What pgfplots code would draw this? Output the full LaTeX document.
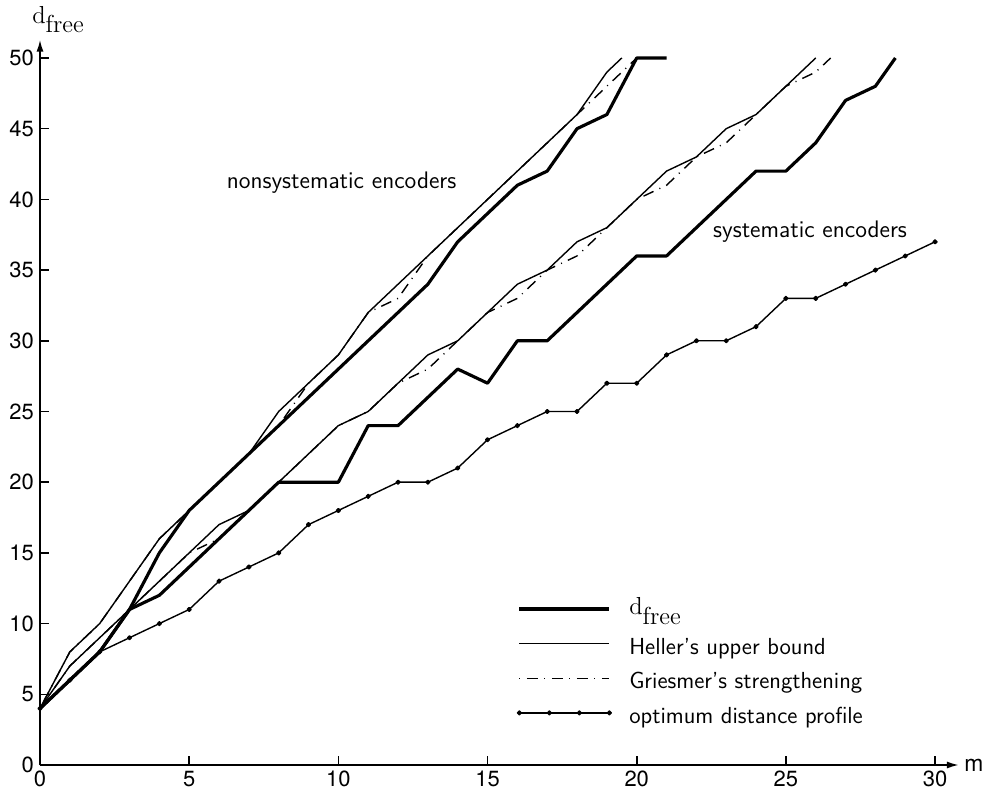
\documentclass[border=0pt]{standalone}
\usepackage{fontspec}
\usepackage{pgfplots}
\pgfplotsset{compat=1.18}
\usetikzlibrary{arrows.meta}
\newfontfamily\heros{TeX Gyre Heros}
\newcommand{\dfree}{{\fontsize{14}{16}\selectfont\rmfamily d\raisebox{-5.5pt}{free}}}
\newcommand{\txtfont}{\sffamily\fontsize{13.2}{15}\selectfont}
\newcommand{\lstrut}{\rule[-0.22cm]{0pt}{0.70cm}}

\begin{document}
\begin{tikzpicture}
\begin{axis}[
    x=0.5967cm, y=0.2828cm,
    xmin=0, xmax=30.8, ymin=0, ymax=51.3,
    axis lines=left,
    axis line style={line width=1pt, -{Latex[length=2.4mm,width=1.4mm]}},
    xtick={0,5,...,30}, ytick={0,5,...,50},
    tick align=inside, major tick length=0.18cm,
    tick style={line width=0.9pt, black},
    ticklabel style={font=\heros\fontsize{12.5}{14}\selectfont},
    /pgf/number format/assume math mode=true,
    xlabel={\heros\fontsize{13}{15}\selectfont m},
    ylabel={\dfree},
    every axis x label/.style={at={(rel axis cs:1,0)}, anchor=west, inner sep=0pt, xshift=0.1cm},
    every axis y label/.style={at={(rel axis cs:0,1)}, anchor=south west, inner sep=0pt, xshift=-0.16cm, yshift=0.12cm},
    clip=false,
    legend cell align=left,
    legend style={at={(axis cs:15.99,12.0)}, anchor=north west, draw=none, fill=none,
        inner sep=0pt, row sep=0.16cm, column sep=0.36cm, font=\txtfont,
        nodes={inner sep=0pt}},
    legend image code/.code={\draw[mark repeat=1,#1] plot coordinates {(0cm,0cm) (0.6cm,0cm) (1.2cm,0cm) (1.8cm,0cm)};},
    every axis plot/.append style={line join=round},
]
% free distance, nonsystematic
\addplot[black, line width=1.8pt] coordinates {
(0,4) (1,6) (2,8) (3,11) (4,15) (5,18) (6,20) (7,22) (8,24) (9,26) (10,28)
(11,30) (12,32) (13,34) (14,37) (15,39) (16,41) (17,42) (18,45) (19,46) (20,50) (21,50)
};
\addlegendentry{\lstrut\raisebox{0.1cm}[0pt][0pt]{\dfree}}
% free distance, systematic
\addplot[black, line width=1.8pt, forget plot] coordinates {
(0,4) (1,6) (2,8) (3,11) (4,12) (5,14) (6,16) (7,18) (8,20) (9,20) (10,20)
(11,24) (12,24) (13,26) (14,28) (15,27) (16,30) (17,30) (18,32) (19,34) (20,36)
(21,36) (22,38) (23,40) (24,42) (25,42) (26,44) (27,47) (28,48) (28.67,50)
};
% Heller, nonsystematic
\addplot[black, line width=0.8pt] coordinates {
(0,4) (1,8) (2,10) (3,13) (4,16) (5,18) (6,20) (7,22) (8,25) (9,27) (10,29)
(11,32) (12,34) (13,36) (14,38) (15,40) (16,42) (17,44) (18,46) (19,49) (19.5,50)
};
\addlegendentry{\lstrut Heller's upper bound}
% Heller, systematic
\addplot[black, line width=0.8pt, forget plot] coordinates {
(0,4) (1,7) (2,9) (3,11) (4,13) (5,15) (6,17) (7,18) (8,20) (9,22) (10,24)
(11,25) (12,27) (13,29) (14,30) (15,32) (16,34) (17,35) (18,37) (19,38) (20,40)
(21,42) (22,43) (23,45) (24,46) (25,48) (26,50)
};
% Griesmer, nonsystematic
\addplot[black, line width=0.8pt, dash pattern=on 0.22cm off 0.13cm on 0.02cm off 0.13cm, dash phase=0.35cm] coordinates {
(0,4) (1,8) (2,10) (3,13) (4,16) (5,18) (6,20) (7,22) (8,24) (9,27) (10,29)
(11,32) (12,33) (13,36) (14,38) (15,40) (16,42) (17,44) (18,46) (19,48) (20,50)
};
\addlegendentry{\lstrut Griesmer's strengthening}
% Griesmer, systematic
\addplot[black, line width=0.8pt, dash pattern=on 0.22cm off 0.13cm on 0.02cm off 0.13cm, forget plot] coordinates {
(0,4) (1,7) (2,9) (3,11) (4,13) (5,15) (6,16) (7,18) (8,20) (9,22) (10,24)
(11,25) (12,27) (13,28) (14,30) (15,32) (16,33) (17,35) (18,36) (19,38) (20,40)
(21,41) (22,43) (23,44) (24,46) (25,48) (26,49) (26.5,50)
};
% optimum distance profile
\addplot[black, line width=0.8pt, mark=*, mark size=1.1pt] coordinates {
(0,4) (1,6) (2,8) (3,9) (4,10) (5,11) (6,13) (7,14) (8,15) (9,17) (10,18)
(11,19) (12,20) (13,20) (14,21) (15,23) (16,24) (17,25) (18,25) (19,27) (20,27)
(21,29) (22,30) (23,30) (24,31) (25,33) (26,33) (27,34) (28,35) (29,36) (30,37)
};
\addlegendentry{\lstrut optimum distance profile}

\node[anchor=west, inner sep=0pt, font=\sffamily\fontsize{13.6}{16}\selectfont] at (axis cs:6.25,41.2) {nonsystematic encoders};
\node[anchor=west, inner sep=0pt, font=\sffamily\fontsize{13.6}{16}\selectfont] at (axis cs:22.55,37.7) {systematic encoders};
\path (axis cs:-1.341,-2.05) rectangle (axis cs:31.64,54.1);
\end{axis}
\end{tikzpicture}
\end{document}
